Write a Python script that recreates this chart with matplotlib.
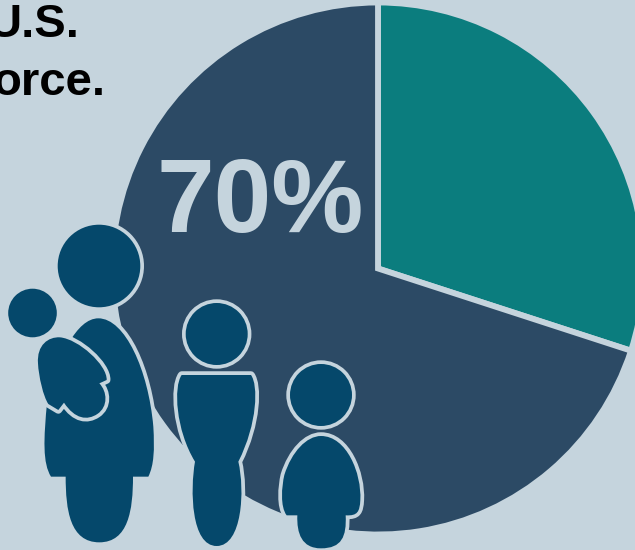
import matplotlib
matplotlib.use('Agg')
import matplotlib.pyplot as plt
from matplotlib.patches import Circle, PathPatch
from matplotlib.path import Path

slice_values = [30, 70]
slice_colors = ['#0b7d7e', '#2c4a65']
big_label = '70%'
head_lines = ['U.S.', 'orce.']

bg = '#c5d4dd'
icon = '#05486b'

fig = plt.figure(figsize=(6.35, 5.5), dpi=100, facecolor=bg)

# pie first, y goes up here
ax = fig.add_axes([0, 0, 1, 1])
ax.pie(slice_values, colors=slice_colors, startangle=90, counterclock=False,
       center=(378, 281.5), radius=266,
       wedgeprops={'edgecolor': bg, 'linewidth': 4.2})
ax.set_xlim(0, 635)
ax.set_ylim(0, 550)
ax.set_aspect('auto')
ax.axis('off')

# second axes in picture pixels for the people and the text
ov = fig.add_axes([0, 0, 1, 1])
ov.set_xlim(0, 635)
ov.set_ylim(550, 0)
ov.axis('off')
ov.patch.set_alpha(0)


def shape(start, curves, off, lw=5.4):
    def conv(p):
        return (off[0] + p[0] / 3, off[1] + p[1] / 3)
    verts = [conv(start)]
    codes = [Path.MOVETO]
    for c in curves:
        verts += [conv(p) for p in c]
        codes += [Path.CURVE4] * 3
    verts.append(conv(start))
    codes.append(Path.CLOSEPOLY)
    # wide stroke under the fill so only the outer half shows
    ov.add_patch(PathPatch(Path(verts, codes), facecolor=bg, edgecolor=bg,
                           linewidth=lw, joinstyle='round'))
    ov.add_patch(PathPatch(Path(verts, codes), facecolor=icon, edgecolor='none'))


def head(xy, r, ring=3.7):
    ov.add_patch(Circle(xy, r + ring, facecolor=bg, edgecolor='none'))
    ov.add_patch(Circle(xy, r, facecolor=icon, edgecolor='none'))


def line(a, b):
    # straight piece as a bezier
    return [a, b, b]


off_a = (0, 210)
off_b = (165, 290)

# mother
head((99, 266), 41.3)
shape((153, 800), [
    [(128, 760), (130, 690), (142, 570)],
    [(175, 440), (230, 325), (295, 325)],
    [(375, 325), (445, 480), (460, 650)],
    [(464, 720), (462, 765), (445, 800)],
    line((445, 800), (399, 800)),
    [(399, 900), (385, 997), (298, 997)],
    [(210, 997), (197, 900), (197, 800)],
    line((197, 800), (153, 800)),
], off_a)
# baby
head((32.5, 313), 24.3, ring=0.3)
shape((114, 460), [
    [(110, 405), (145, 380), (180, 382)],
    [(235, 387), (322, 465), (320, 510)],
    line((320, 510), (298, 520)),
    [(322, 545), (325, 590), (292, 612)],
    [(262, 632), (225, 628), (192, 578)],
    line((192, 578), (175, 600)),
    line((175, 600), (145, 582)),
    [(130, 560), (116, 500), (114, 460)],
], off_a)

# older child
head((216.7, 334), 31)
shape((50, 255), [
    line((50, 255), (258, 255)),
    [(280, 285), (278, 400), (220, 515)],
    [(240, 600), (232, 768), (155, 768)],
    [(78, 768), (75, 600), (90, 515)],
    [(32, 420), (25, 290), (50, 255)],
], off_b)

# small child
head((321, 395), 31)
shape((468, 438), [
    [(545, 438), (590, 550), (586, 630)],
    [(584, 665), (578, 678), (542, 676)],
    [(545, 740), (530, 775), (468, 775)],
    [(410, 775), (395, 730), (397, 676)],
    line((397, 676), (365, 676)),
    [(345, 650), (350, 590), (358, 555)],
    [(380, 485), (425, 438), (468, 438)],
], off_b)

ov.text(364, 232, big_label, color=bg, fontsize=74.5, fontweight='bold',
        family='Liberation Sans', ha='right', va='baseline')
ov.text(79, 37, head_lines[0], color='black', fontsize=34, fontweight='bold',
        family='Liberation Sans', ha='right', va='baseline')
ov.text(105.5, 95, head_lines[1], color='black', fontsize=34, fontweight='bold',
        family='Liberation Sans', ha='right', va='baseline')

fig.savefig('out.png', dpi=100, facecolor=bg)
